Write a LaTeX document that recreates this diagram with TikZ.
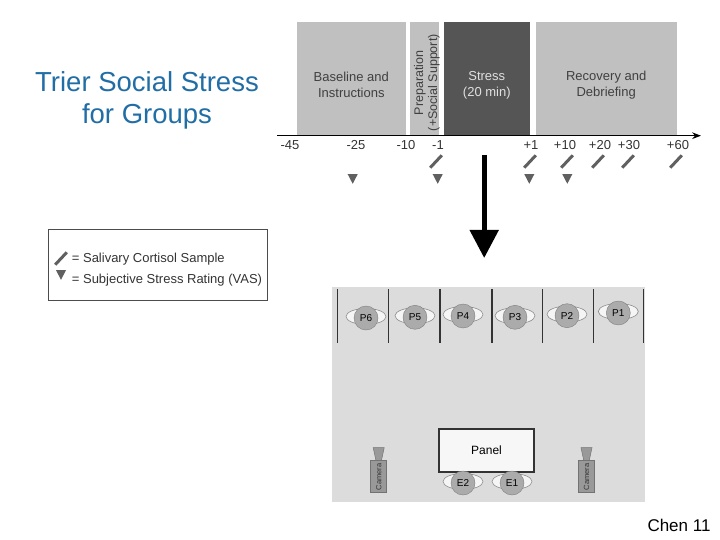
\documentclass[tikz,border=0pt]{standalone}
\usepackage{fontspec}
\setmainfont{Liberation Sans}
\usetikzlibrary{arrows.meta,positioning}
\definecolor{titleblue}{RGB}{32,110,165}
\definecolor{phasegray}{RGB}{192,192,192}
\definecolor{stressgray}{RGB}{85,85,85}
\definecolor{markgray}{RGB}{96,96,96}
\definecolor{roomgray}{RGB}{220,220,220}
\newcommand{\swab}[2]{%
  \draw[swab] (#1-5.8,#2+6.2) -- (#1+5.8,#2-6.2);
}
\newcommand{\vas}[2]{%
  \fill[markgray] (#1-5,#2-4.8) -- (#1+5,#2-4.8) -- (#1,#2+4.8) -- cycle;
}
\newcommand{\seat}[4]{%
  \draw[chair] (#2,#3-1.5) ellipse (20pt and 8pt);
  \node[person] (#1) at (#2,#3) {#4};
}
\newcommand{\camera}[3]{%
  \filldraw[lens] (#2-5.5,#3-13) -- (#2+5.5,#3-13) -- (#2+2.7,#3) -- (#2-2.7,#3) -- cycle;
  \node[cambody] (#1) at (#2,#3+16) {Camera};
}
\tikzset{
  phase/.style={fill=phasegray,inner sep=0pt,minimum height=112.7pt},
  phasetxt/.style={align=center,text=black!75,font=\fontsize{13}{16}\selectfont},
  tick/.style={text=black!80,inner sep=0pt},
  swab/.style={markgray,line width=3pt},
  chair/.style={draw=black!45,fill=black!4,line width=0.6pt},
  person/.style={circle,draw=black!50,fill=black!33,minimum size=24pt,inner sep=0pt,font=\fontsize{10}{11}\selectfont},
  lens/.style={fill=black!40,draw=black!55,line width=0.5pt},
  cambody/.style={rectangle,rotate=90,fill=black!40,draw=black!55,line width=0.5pt,minimum width=32pt,minimum height=16pt,inner sep=0pt,font=\fontsize{7.5}{8}\selectfont,text=black!80},
  booth/.style={black!80,line width=1.2pt},
  legtxt/.style={anchor=base west,inner sep=0pt,text=black!80},
}

\begin{document}
\begin{tikzpicture}[x=1pt,y=-1pt,>=Stealth,every node/.style={font=\fontsize{13}{15.6}\selectfont}]
  \useasboundingbox (0,0) rectangle (720,540);
  \node[anchor=base,text=titleblue,font=\fontsize{27.5}{33}\selectfont] (title1) at (147,91.5) {Trier Social Stress};
  \node[anchor=base,text=titleblue,font=\fontsize{27.5}{33}\selectfont] (title2) at (147,124) {for Groups};

  % time line
  \node[phase,minimum width=109.3pt] (base) at (351.3,78.7) {};
  \node[phasetxt] (basetxt) at ([yshift=-6.5pt]base.center) {Baseline and\\Instructions};
  \node[phase,minimum width=29pt] (prep) at (424.5,78.7) {};
  \node[phasetxt,rotate=90,font=\fontsize{12.5}{14}\selectfont] (preptxt) at ([xshift=2.5pt,yshift=-4pt]prep.center) {Preparation\\(+Social Support)};
  \node[phase,fill=stressgray,minimum width=86.3pt] (stress) at (486.8,78.7) {};
  \node[phasetxt,text=black!12] (stresstxt) at ([yshift=-6.5pt]stress.center) {Stress\\(20 min)};
  \node[phase,minimum width=141pt] (recov) at (606.2,78.7) {};
  \node[phasetxt] (recovtxt) at ([yshift=-6.5pt]recov.center) {Recovery and\\Debriefing};
  \coordinate (t0) at (277,135.7);
  \coordinate (t1) at (701,135.7);
  \draw[->,line width=1.3pt] (t0) -- (t1);
  \foreach \x/\t [count=\i] in {290/-45,356/-25,406/-10,438/-1,531/+1,565/+10,600/+20,629/+30,678/+60}{
    \node[tick] (tick\i) at (\x,145.5) {\t};
  }
  \foreach \x in {436,530,567,598,628,676}{
    \swab{\x}{161.5}
  }
  \foreach \x in {352.7,437.7,529.3,567.3}{
    \vas{\x}{179}
  }

  \coordinate (down0) at (484.2,155);
  \coordinate (down1) at (484.2,258);
  \draw[-{Triangle[width=28pt,length=28pt]},line width=5pt] (down0) -- (down1);

  % legend
  \node[draw=black!70,line width=1pt,minimum width=219pt,minimum height=70pt,inner sep=0pt] (legend) at (157.8,265) {};
  \swab{61}{258.5}
  \vas{61}{275}
  \node[legtxt] (leg1) at (71.7,262.3) {= Salivary Cortisol Sample};
  \node[legtxt] (leg2) at (71.7,283.3) {= Subjective Stress Rating (VAS)};

  % room
  \node[fill=roomgray,minimum width=313pt,minimum height=215pt,inner sep=0pt] (room) at (488.5,394.5) {};
  \foreach \x in {337.3,388.3,440,492,542.7,593.3,643.3}{
    \draw[booth] (\x,289) -- (\x,343);
  }
  \seat{p6}{366}{318}{P6}
  \seat{p5}{415}{317.3}{P5}
  \seat{p4}{463}{316}{P4}
  \seat{p3}{515}{317.3}{P3}
  \seat{p2}{567}{315.7}{P2}
  \seat{p1}{618.3}{313}{P1}
  \node[draw=black!80,line width=1.2pt,fill=black!3,minimum width=95pt,minimum height=43pt,font=\fontsize{12}{14}\selectfont] (panel) at (486.5,450.5) {Panel};
  \seat{e2}{463}{483}{E2}
  \seat{e1}{512}{483}{E1}
  \camera{camL}{378.7}{460.7}
  \camera{camR}{586.5}{460.7}

  \node[font=\fontsize{17}{20}\selectfont] (page) at (679,525) {Chen 11};
\end{tikzpicture}
\end{document}
